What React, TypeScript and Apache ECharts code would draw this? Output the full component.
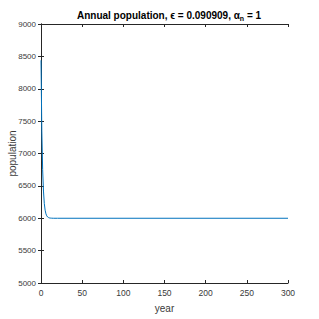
import React, { useEffect, useRef } from "react";
import * as echarts from "echarts";

const years = [0, 1, 2, 3, 4, 5, 6, 7, 8, 9, 10, 11, 12, 13, 15, 20, 300];
const population = [8440, 7350, 6750, 6420, 6230, 6125, 6068, 6037, 6020, 6011, 6006, 6003, 6002, 6001, 6000, 6000, 6000];
const xTicks = [0, 50, 100, 150, 200, 250, 300];
const yTicks = [5000, 5500, 6000, 6500, 7000, 7500, 8000, 8500, 9000];

const titleText = "Annual population, \u03f5 = 0.090909, \u03b1";

export default function App() {
  const ref = useRef<HTMLDivElement>(null);
  useEffect(() => {
    document.body.style.margin = "0";
    const chart = echarts.init(ref.current!, null, { renderer: "svg" });
    const font = "Liberation Sans, Arial, sans-serif";
    const axisColor = "#262626";
    const labelColor = "#3a3a3a";
    const data = years.map((y, i) => [y, population[i]]);
    const common = {
      axisLine: { show: true, lineStyle: { color: axisColor, width: 1 } },
      axisTick: { show: true, inside: true, length: 3, lineStyle: { color: axisColor } },
      splitLine: { show: false },
    };
    chart.setOption({
      animation: false,
      backgroundColor: "#ffffff",
      title: {
        text: "{t|" + titleText + "}{s|n}{t| = 1}",
        left: 164,
        textAlign: "center",
        top: 4,
        textStyle: {
          rich: {
            t: { fontFamily: font, fontWeight: "bold", fontSize: 10, color: "#000" },
            s: { fontFamily: font, fontWeight: "bold", fontSize: 7, color: "#000", padding: [6, 0, 0, 0] },
          },
        },
      },
      grid: { left: 41, right: 31, top: 24, bottom: 36, containLabel: false, outerBoundsMode: "none" },
      xAxis: [
        {
          type: "value",
          position: "bottom",
          min: 0,
          max: 300,
          interval: 50,
          name: "year",
          nameLocation: "middle",
          nameGap: 20,
          nameMoveOverlap: false,
          nameTextStyle: { fontFamily: font, fontSize: 10, color: labelColor },
          axisLabel: { fontFamily: font, fontSize: 8.5, color: labelColor, margin: 5, formatter: (v: number) => (xTicks.includes(v) ? String(v) : "") },
          ...common,
        },
        {
          type: "value",
          position: "top",
          min: 0,
          max: 300,
          interval: 50,
          axisLabel: { show: false },
          ...common,
        },
      ],
      yAxis: [
        {
          type: "value",
          position: "left",
          min: 5000,
          max: 9000,
          interval: 500,
          name: "population",
          nameLocation: "middle",
          nameGap: 24,
          nameMoveOverlap: false,
          nameTextStyle: { fontFamily: font, fontSize: 10, color: labelColor },
          axisLabel: { fontFamily: font, fontSize: 8, color: labelColor, margin: 5, formatter: (v: number) => (yTicks.includes(v) ? String(v) : "") },
          ...common,
        },
        {
          type: "value",
          position: "right",
          min: 5000,
          max: 9000,
          interval: 500,
          axisLabel: { show: false },
          ...common,
        },
      ],
      series: [
        {
          type: "line",
          data,
          xAxisIndex: 0,
          yAxisIndex: 0,
          showSymbol: false,
          smooth: false,
          lineStyle: { color: "#0072BD", width: 1 },
        },
      ],
    });
    return () => chart.dispose();
  }, []);
  return <div ref={ref} style={{ width: 319, height: 319 }} />;
}
